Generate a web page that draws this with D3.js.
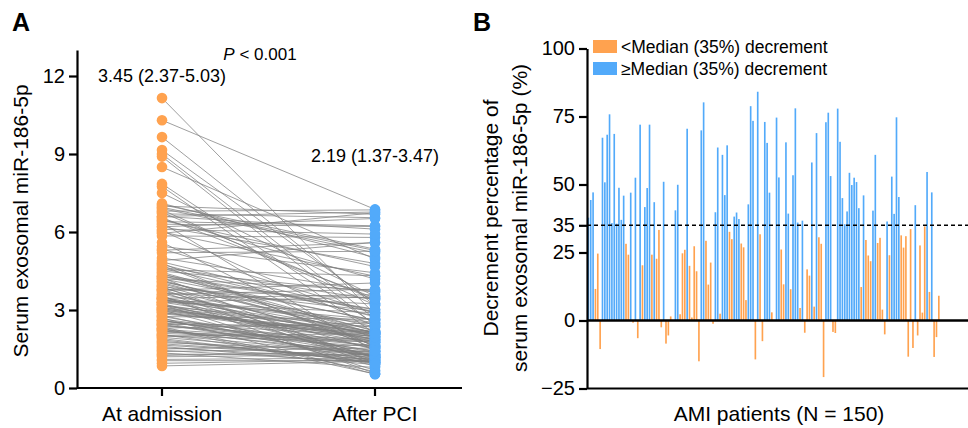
<!DOCTYPE html>
<html>
<head>
<meta charset="utf-8">
<script src="https://cdn.jsdelivr.net/npm/d3@7"></script>
<style>
  body { margin: 0; background: #fff; }
  svg { font-family: "Liberation Sans", Arial, Helvetica, sans-serif; }
</style>
</head>
<body>
<svg id="chart"></svg>
<script>
// panel A: paired values, at admission and after PCI
const groups = ["At admission", "After PCI"];
const admission = [
  4.2, 3.1, 2.6, 2.0, 6.9, 1.5, 9.65, 2.6, 4.8, 3.7,
  2.9, 7.85, 6.5, 1.9, 3.3, 4.1, 2.2, 7.05, 3.5, 6.8,
  4.4, 1.2, 3.0, 2.5, 8.5, 2.75, 5.6, 3.9, 1.6, 6.2,
  10.3, 6.6, 4.05, 2.3, 5.3, 6.3, 1.05, 3.6, 2.45, 6.7,
  2.85, 5.0, 9.0, 1.75, 5.85, 3.4, 4.5, 0.95, 3.8, 2.7,
  7.1, 2.15, 3.35, 5.2, 4.6, 3.25, 6.4, 6.05, 1.85, 9.15,
  2.4, 4.3, 3.05, 4.3, 2.05, 6.0, 3.45, 6.6, 4.1, 3.2,
  2.35, 4.9, 3.55, 1.45, 3.75, 7.75, 2.8, 4.0, 6.1, 1.3,
  11.15, 3.2, 3.15, 2.1, 4.7, 2.65, 3.65, 6.85, 4.25, 1.95,
  7.0, 3.0, 1.1, 5.45, 2.55, 3.95, 4.55, 3.45, 3.1, 1.65,
  0.85, 8.9, 2.3, 4.15, 3.45, 2.0, 6.35, 3.5, 2.6, 3.05,
  1.8, 3.85, 6.75, 2.5, 4.45, 1.35, 3.3, 5.35, 2.9, 6.95,
  2.25, 4.85, 3.75, 1.55, 4.35, 2.75, 6.2, 3.4, 2.4, 7.5,
  2.2, 3.9, 2.25, 1.7, 4.65, 3.0, 5.95, 2.95, 1.4, 4.75,
  3.6, 6.45, 2.45, 3.2, 2.05, 4.2, 6.55, 1.25, 3.3, 3.8
];
const afterPCI = [
  2.61, 1.73, 1.38, 1.77, 5.20, 1.66, 3.17, 1.28, 1.52, 0.90,
  1.86, 2.46, 4.19, 0.97, 2.08, 2.22, 1.58, 5.34, 1.86, 6.85,
  2.09, 1.28, 0.84, 1.99, 4.96, 1.41, 1.57, 2.96, 0.90, 4.79,
  6.87, 6.77, 1.98, 2.50, 5.59, 6.21, 1.05, 2.14, 1.23, 6.55,
  2.15, 3.70, 2.66, 1.40, 5.79, 2.47, 3.69, 1.09, 1.14, 0.53,
  5.02, 1.87, 2.64, 5.26, 2.77, 1.18, 6.24, 2.37, 1.00, 3.26,
  1.62, 3.01, 1.88, 2.59, 1.29, 4.30, 2.52, 6.11, 2.35, 0.68,
  0.63, 5.60, 0.56, 0.99, 4.04, 2.09, 0.97, 2.12, 5.92, 1.30,
  2.83, 1.52, 2.33, 1.82, 1.62, 1.61, 3.23, 3.19, 0.94, 1.25,
  6.68, 1.90, 1.15, 4.43, 2.13, 1.66, 4.32, 1.07, 2.15, 1.18,
  1.03, 2.41, 0.54, 1.95, 3.59, 2.09, 1.40, 1.20, 1.43, 1.97,
  1.08, 1.76, 3.39, 1.19, 2.18, 0.79, 2.89, 2.89, 2.04, 5.29,
  1.76, 2.89, 1.47, 1.11, 3.03, 2.64, 6.52, 2.16, 1.82, 3.53,
  1.34, 0.99, 1.23, 1.17, 3.40, 2.07, 6.74, 1.96, 1.54, 2.74,
  3.80, 4.67, 2.38, 2.09, 0.93, 3.76, 3.46, 1.42, 3.50, 3.45
];
const medianLabels = ["3.45 (2.37-5.03)", "2.19 (1.37-3.47)"];
const leftTicks = [0, 3, 6, 9, 12];

// panel B: decrement percentage per patient
const decrement = [
  37.8, 44.3, 47.1, 11.6, 24.6, -10.5, 67.2, 50.8, 68.3, 75.8,
  35.8, 68.6, 35.6, 48.8, 37.0, 45.9, 28.2, 24.2, 47.0, -0.8,
  52.5, -6.5, 72.0, 20.3, 41.7, 48.7, 72.0, 24.2, 43.5, 22.7,
  33.3, -2.5, 51.0, -8.5, -5.5, 1.5, 0, 40.5, 49.9, 2.3,
  24.7, 26.0, 70.5, 20.1, 1.1, 27.3, 18.1, -15.0, 69.9, 80.2,
  29.3, 13.2, 21.3, -1.2, 39.8, 63.6, 2.5, 60.9, 46.1, 64.4,
  32.6, 29.9, 38.2, 39.7, 37.3, 28.3, 26.9, 7.5, 42.7, 78.8,
  73.4, -14.3, 84.1, 31.7, -7.6, 73.0, 65.3, 47.0, 3.0, 0,
  74.6, 52.6, 26.1, 13.3, 65.5, 39.3, 11.5, 53.4, 78.0, 36.0,
  4.6, 36.7, -4.5, 18.8, 16.5, 58.1, 5.1, 68.9, 30.6, 28.2,
  -20.8, 72.9, 76.4, 53.1, -4.2, -4.6, 77.9, 65.7, 45.0, 35.4,
  40.1, 54.3, 49.8, 52.5, 50.9, 41.3, 12.3, 46.0, 29.6, 23.9,
  21.8, 40.4, 60.9, 28.5, 30.4, 4.0, -5.1, 36.4, 24.0, 52.9,
  39.2, 74.7, 45.4, 31.3, 26.8, 31.0, -13.3, 33.6, -10.1, 42.4,
  -5.5, 27.6, 2.9, 34.6, 54.6, 10.5, 47.1, -13.4, -6.1, 9.1
];
const rightTicks = [-25, 0, 25, 35, 50, 75, 100];
const medianCut = 35;
const legendLabels = ["<Median (35%) decrement", "\u2265Median (35%) decrement"];

const orange = "#ffa24f";
const blue = "#52aafa";

const svg = d3.select("#chart")
  .attr("width", 968)
  .attr("height", 428);

function styleAxis(g) {
  g.selectAll(".domain").attr("stroke", "#000").attr("stroke-width", 2.2);
  g.selectAll(".tick line").attr("stroke", "#000").attr("stroke-width", 2.2);
  g.selectAll(".tick text").attr("fill", "#000").attr("font-size", 20)
    .attr("font-family", "Liberation Sans, Arial, sans-serif");
}

// ---------- panel A ----------
const yA = d3.scaleLinear().domain([0, 13]).range([388, 50]);
const xA = d3.scalePoint().domain(groups).range([162, 375]);

svg.append("text").attr("x", 12).attr("y", 31)
  .attr("font-size", 25).attr("font-weight", "bold").text("A");

svg.append("g")
  .attr("transform", "translate(77,0)")
  .call(d3.axisLeft(yA).tickValues(leftTicks).tickSize(8).tickSizeOuter(0).tickPadding(4))
  .call(styleAxis);

svg.append("g")
  .attr("transform", "translate(0,388)")
  .call(g => g.append("line").attr("x1", 77).attr("x2", 462)
    .attr("stroke", "#000").attr("stroke-width", 2.2))
  .call(g => g.selectAll(".tk").data(groups).enter().append("line")
    .attr("x1", d => xA(d)).attr("x2", d => xA(d))
    .attr("y1", 0).attr("y2", 8)
    .attr("stroke", "#000").attr("stroke-width", 2.2))
  .call(g => g.selectAll(".lb").data(groups).enter().append("text")
    .attr("x", d => xA(d)).attr("y", 33)
    .attr("text-anchor", "middle").attr("font-size", 21).text(d => d));

svg.append("text")
  .attr("transform", "translate(28,221) rotate(-90)")
  .attr("text-anchor", "middle").attr("font-size", 21)
  .text("Serum exosomal miR-186-5p");

// paired lines
svg.append("g").selectAll("line")
  .data(admission)
  .enter().append("line")
  .attr("x1", xA(groups[0]))
  .attr("y1", d => yA(d))
  .attr("x2", xA(groups[1]))
  .attr("y2", (d, i) => yA(afterPCI[i]))
  .attr("stroke", "#7f7f7f")
  .attr("stroke-width", 0.75);

svg.append("g").selectAll("circle")
  .data(admission)
  .enter().append("circle")
  .attr("cx", xA(groups[0])).attr("cy", d => yA(d))
  .attr("r", 5.3).attr("fill", orange);

svg.append("g").selectAll("circle")
  .data(afterPCI)
  .enter().append("circle")
  .attr("cx", xA(groups[1])).attr("cy", d => yA(d))
  .attr("r", 5.3).attr("fill", blue);

svg.append("text").attr("x", xA(groups[0])).attr("y", 82)
  .attr("text-anchor", "middle").attr("font-size", 18).text(medianLabels[0]);
svg.append("text").attr("x", xA(groups[1])).attr("y", 162)
  .attr("text-anchor", "middle").attr("font-size", 18).text(medianLabels[1]);

const pText = svg.append("text").attr("x", 260).attr("y", 60)
  .attr("text-anchor", "middle").attr("font-size", 17);
pText.append("tspan").attr("font-style", "italic").text("P");
pText.append("tspan").text(" < 0.001");

// ---------- panel B ----------
const patients = decrement.map((d, i) => i + 1);
const xB = d3.scaleBand().domain(patients).range([587.2, 940])
  .paddingInner(0.3).paddingOuter(0.15);
const yB = d3.scaleLinear().domain([-25, 100]).range([388.5, 48.5]);

svg.append("text").attr("x", 473).attr("y", 31)
  .attr("font-size", 25).attr("font-weight", "bold").text("B");

svg.append("g").selectAll("rect")
  .data(decrement)
  .enter().append("rect")
  .attr("x", (d, i) => xB(patients[i]))
  .attr("width", xB.bandwidth())
  .attr("y", d => yB(Math.max(0, d)))
  .attr("height", d => Math.abs(yB(d) - yB(0)))
  .attr("fill", d => d >= medianCut ? blue : orange);

svg.append("line")
  .attr("x1", 587).attr("x2", 968)
  .attr("y1", yB(medianCut)).attr("y2", yB(medianCut))
  .attr("stroke", "#000").attr("stroke-width", 1.4)
  .attr("stroke-dasharray", "4,3");

svg.append("line")
  .attr("x1", 587).attr("x2", 968)
  .attr("y1", yB(0)).attr("y2", yB(0))
  .attr("stroke", "#000").attr("stroke-width", 2.4);

svg.append("line")
  .attr("x1", 587).attr("x2", 968)
  .attr("y1", yB(-25)).attr("y2", yB(-25))
  .attr("stroke", "#000").attr("stroke-width", 2.2);

svg.append("g")
  .attr("transform", "translate(587,0)")
  .call(d3.axisLeft(yB).tickValues(rightTicks).tickSize(8).tickSizeOuter(0).tickPadding(4))
  .call(styleAxis);

svg.append("text")
  .attr("transform", "translate(498,218) rotate(-90)")
  .attr("text-anchor", "middle").attr("font-size", 21)
  .text("Decrement percentage of");
svg.append("text")
  .attr("transform", "translate(527,218) rotate(-90)")
  .attr("text-anchor", "middle").attr("font-size", 21)
  .text("serum exosomal miR-186-5p (%)");

svg.append("text").attr("x", 779).attr("y", 421)
  .attr("text-anchor", "middle").attr("font-size", 21)
  .text("AMI patients (N = 150)");

// legend
const legend = svg.append("g").attr("transform", "translate(593,40)");
legend.selectAll("rect").data(legendLabels).enter().append("rect")
  .attr("x", 0).attr("y", (d, i) => i * 22)
  .attr("width", 24).attr("height", 13)
  .attr("fill", (d, i) => i === 0 ? orange : blue);
legend.selectAll("text").data(legendLabels).enter().append("text")
  .attr("x", 28).attr("y", (d, i) => i * 22 + 12.5)
  .attr("font-size", 17.5).text(d => d);
</script>
</body>
</html>
